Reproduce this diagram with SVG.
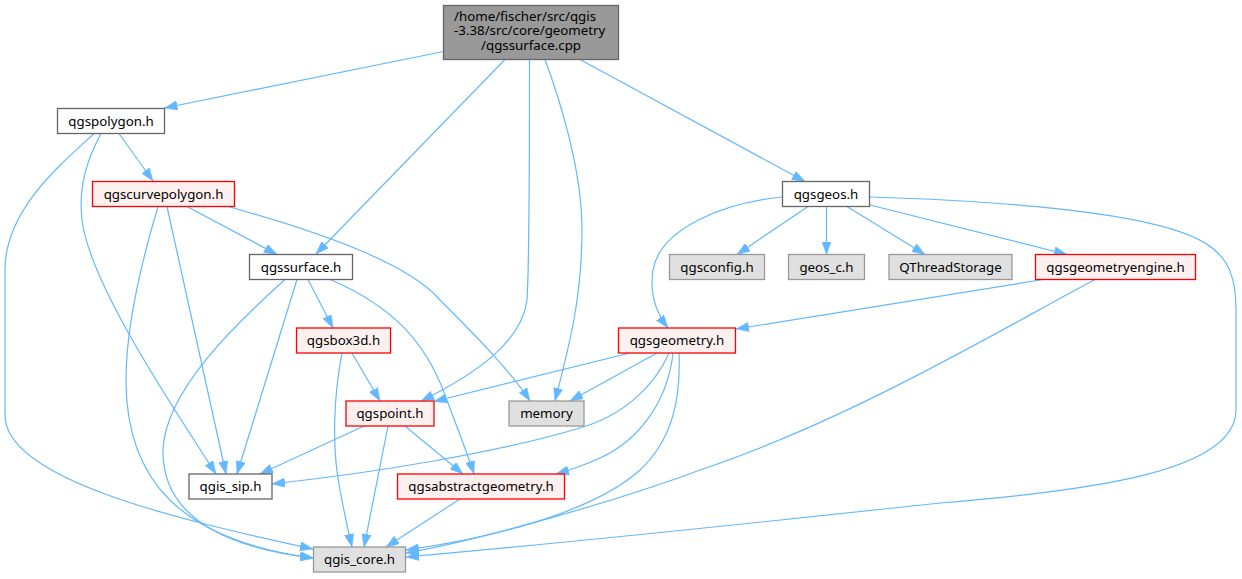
<svg xmlns="http://www.w3.org/2000/svg" width="1242" height="579" viewBox="0 0 1242 579">
<style>
.n rect{stroke-width:1.3}
.w rect{fill:#ffffff;stroke:#666666}
.r rect{fill:#fff0f0;stroke:#ff0000}
.g rect{fill:#e0e0e0;stroke:#999999}
.t rect{fill:#999999;stroke:#666666}
text{font-family:"Noto Sans","DejaVu Sans",sans-serif;font-size:13.3px;fill:#000000}
.n text{text-anchor:middle}
#edges path{fill:none;stroke:#63b8ff;stroke-width:1.2;marker-end:url(#ah)}
</style>
<defs>
<marker id="ah" viewBox="0 0 13 9.4" refX="13" refY="4.7" markerWidth="13" markerHeight="9.4" markerUnits="userSpaceOnUse" orient="auto">
<path d="M0,0 L13,4.7 L0,9.4 z" fill="#63b8ff" stroke="#63b8ff" stroke-width="0.5"/>
</marker>
</defs>
<rect width="1242" height="579" fill="#ffffff"/>
<g id="edges">
<path d="M443.5,51.5 L164.5,108"/>
<path d="M505,59.5 L316,254"/>
<path d="M529.5,59.5 C529.5,150 529,270 527,300 C522,340 480,372 421,401"/>
<path d="M545,59.5 C560,100 582,170 582,230 C582,300 568,350 555,401"/>
<path d="M580,59.5 L805,181.5"/>
<path d="M119,133.5 L153,181"/>
<path d="M101,133.5 C88,158 78,185 82,220 C90,285 175,410 216,474"/>
<path d="M94,133.5 C60,165 5,210 5,270 L5,415 C5,480 180,520 313,549"/>
<path d="M187,206.5 L277,254.5"/>
<path d="M228,206.5 C330,235 410,265 440,300 C470,330 510,370 530,401"/>
<path d="M167,206.5 L226,474"/>
<path d="M158,206.5 C145,250 126,320 126,380 C126,480 180,540 313,558"/>
<path d="M297,279.5 L237,474"/>
<path d="M285,279.5 C240,320 165,390 163,450 C162,520 230,548 313,558"/>
<path d="M308,279.5 L333,328"/>
<path d="M330,279.5 C390,305 425,340 445,395 C458,430 468,455 474,474"/>
<path d="M352,353 L380,401"/>
<path d="M342,353 C333,400 332,450 340,490 C344,512 348,530 352,547"/>
<path d="M364,426 L260,474"/>
<path d="M388,426 L364,547"/>
<path d="M405,426 L463,474"/>
<path d="M460,499 L386,547"/>
<path d="M808,206.5 L737,254.5"/>
<path d="M826.5,206.5 L826.5,254.5"/>
<path d="M847,206.5 L925,254.5"/>
<path d="M870,205 L1067,254.5"/>
<path d="M782,197 C720,203 660,230 653,270 C649,295 658,315 668,328"/>
<path d="M870,197 C1030,202 1160,215 1205,243 C1230,258 1236,280 1236,310 L1236,410 C1236,470 1100,490 940,503 C800,518 600,540 406,557"/>
<path d="M1043,279.5 L736,329"/>
<path d="M1095,279.5 C1000,330 850,420 700,470 C620,500 480,540 406,553"/>
<path d="M630,353 L434,401.5"/>
<path d="M657,353 L570,401"/>
<path d="M669,353 C655,385 625,415 580,428 C500,452 380,472 272,484"/>
<path d="M673,353 C668,400 640,440 600,458 C585,465 570,470 556,474"/>
<path d="M679,353 C681,400 672,440 640,470 C590,515 480,540 406,550"/>
</g>
<g id="n_top" class="n t"><rect x="443.5" y="5.5" width="175" height="54"/>
<text x="454" y="20.5" style="text-anchor:start">/home/fischer/src/qgis</text>
<text x="454" y="35" style="text-anchor:start">-3.38/src/core/geometry</text>
<text x="531" y="50">/qgssurface.cpp</text></g>
<g id="n_qgspolygon" class="n w"><rect x="57.5" y="108.5" width="107" height="25"/><text x="111" y="125.5">qgspolygon.h</text></g>
<g id="n_qgscurvepolygon" class="n r"><rect x="92.5" y="181.5" width="142" height="25"/><text x="163.5" y="198.5">qgscurvepolygon.h</text></g>
<g id="n_qgssurface" class="n w"><rect x="249.5" y="254.5" width="103" height="25"/><text x="301" y="271.5">qgssurface.h</text></g>
<g id="n_qgsbox3d" class="n r"><rect x="296.5" y="328" width="94" height="25"/><text x="343.5" y="345">qgsbox3d.h</text></g>
<g id="n_qgspoint" class="n r"><rect x="346" y="401" width="88" height="25"/><text x="390" y="418">qgspoint.h</text></g>
<g id="n_memory" class="n g"><rect x="509" y="401" width="75" height="25"/><text x="546.5" y="418">memory</text></g>
<g id="n_qgis_sip" class="n w"><rect x="189" y="474" width="83" height="25"/><text x="230.5" y="491">qgis_sip.h</text></g>
<g id="n_qgsabstractgeometry" class="n r"><rect x="397.5" y="474" width="167" height="25"/><text x="481" y="491">qgsabstractgeometry.h</text></g>
<g id="n_qgis_core" class="n g"><rect x="313.5" y="547" width="92" height="25"/><text x="359.5" y="564">qgis_core.h</text></g>
<g id="n_qgsgeos" class="n w"><rect x="782.5" y="181.5" width="87" height="25"/><text x="826" y="198.5">qgsgeos.h</text></g>
<g id="n_qgsconfig" class="n g"><rect x="669.5" y="254.5" width="95" height="25"/><text x="717" y="271.5">qgsconfig.h</text></g>
<g id="n_geos_c" class="n g"><rect x="788.5" y="254.5" width="76" height="25"/><text x="826.5" y="271.5">geos_c.h</text></g>
<g id="n_QThreadStorage" class="n g"><rect x="889" y="254.5" width="123" height="25"/><text x="950.5" y="271.5">QThreadStorage</text></g>
<g id="n_qgsgeometryengine" class="n r"><rect x="1035.5" y="254.5" width="160" height="25"/><text x="1115.5" y="271.5">qgsgeometryengine.h</text></g>
<g id="n_qgsgeometry" class="n r"><rect x="618.5" y="328" width="117" height="25"/><text x="677" y="345">qgsgeometry.h</text></g>
</svg>
